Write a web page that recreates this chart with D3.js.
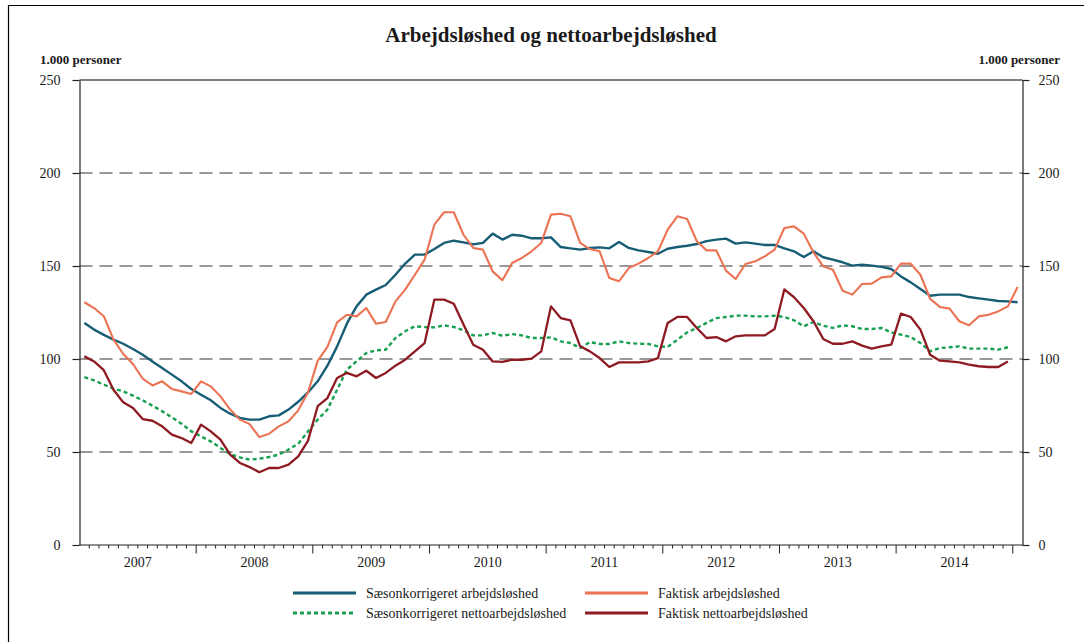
<!DOCTYPE html>
<html>
<head>
<meta charset="utf-8">
<script src="https://cdn.jsdelivr.net/npm/d3@7"></script>
<style>
  body { margin: 0; background: #fff; }
  svg { display: block; }
  text { font-family: "Liberation Serif", "DejaVu Serif", serif; fill: #1a1a1a; }
</style>
</head>
<body>
<div id="chart"></div>
<script>
// Monthly values, Jan 2007 onwards (1.000 personer)
const years = [2007, 2008, 2009, 2010, 2011, 2012, 2013, 2014];
const yTicks = [0, 50, 100, 150, 200, 250];

// Sæsonkorrigeret arbejdsløshed (Jan 2007 - Jan 2015)
const saesonLedighed = [
  119.4, 115.8, 113, 110.4, 108.2, 105.4, 102.3, 98.7, 95.2, 91.6, 88, 83.9,
  80.8, 77.8, 73.7, 70.6, 68.3, 67.4, 67.4, 69.2, 69.7, 72.8, 77, 82,
  88, 96.4, 106.8, 119, 128.3, 134.6, 137.3, 139.8, 145.3, 151.3, 156.1, 156.1,
  159.1, 162.4, 163.6, 162.7, 161.6, 162.4, 167.4, 164.2, 166.8, 166.3, 164.9, 164.9,
  165.4, 160.2, 159.5, 158.8, 159.7, 160, 159.5, 162.9, 159.7, 158.4, 157.5, 156.6,
  159.3, 160.2, 160.9, 161.8, 163.4, 164.2, 164.7, 162, 162.7, 162, 161.3, 161.3,
  159.5, 157.9, 154.8, 157.9, 154.7, 153.4, 152, 150.2, 150.7, 150.2, 149.5, 148.4,
  144.4, 141.2, 137.6, 134, 134.6, 134.6, 134.6, 133.3, 132.6, 131.9, 131.2, 131,
  130.5
];

// Faktisk arbejdsløshed (Jan 2007 - Jan 2015)
const faktiskLedighed = [
  130.5, 127.4, 123, 110.4, 102.7, 97.3, 89.4, 85.8, 88, 83.9, 82.6, 81.2,
  88, 85.3, 79.9, 72.8, 67.4, 65, 58, 59.8, 63.8, 66.5, 72.4, 82,
  99, 106.5, 119.7, 123.8, 122.9, 127.4, 119, 119.9, 131, 137.3, 145.3, 153.4,
  172.2, 178.9, 178.9, 166.8, 159.7, 158.8, 147.1, 142.3, 151.6, 154.3, 157.9, 162.4,
  177.6, 178.1, 176.7, 162.4, 159.1, 157.9, 143.5, 141.8, 148.9, 151.3, 154.3, 157.9,
  169.5, 176.7, 175.3, 163.3, 158.4, 158.4, 147.5, 143, 151.1, 152.5, 155.2, 158.8,
  170.4, 171.3, 167.4, 157.3, 149.8, 148, 136.7, 134.6, 140.3, 140.5, 143.9, 144.4,
  151.3, 151.3, 145.3, 132.3, 128, 127.1, 120.3, 118.1, 122.9, 123.8, 125.6, 128.3,
  138.7
];

// Sæsonkorrigeret nettoarbejdsløshed (Jan 2007 - Dec 2014)
const saesonNetto = [
  90.3, 88.5, 86.2, 84, 82.6, 80.3, 77.8, 74.9, 71.9, 68.6, 65.2, 61.1,
  58.4, 55.7, 52.2, 48.9, 47.1, 45.9, 46.4, 47.3, 48.6, 51.3, 54.5, 61,
  67.4, 72.8, 83.5, 94.3, 98.7, 103.2, 104.7, 105, 111.3, 114.9, 117.6, 117.2,
  117, 118.1, 117.2, 115.4, 112.7, 112.7, 114, 112.5, 113.4, 112.7, 111.3, 111.3,
  111.6, 109.5, 108.6, 105.9, 109.1, 108.1, 108.1, 109.5, 108.6, 108.2, 108.1, 106.8,
  106.5, 110.4, 114.3, 116.7, 119.4, 122, 122.6, 123.3, 123.3, 122.9, 122.9, 123.3,
  122.6, 120.8, 117.6, 119.9, 117.9, 116.7, 118.1, 117.6, 116.1, 116.1, 116.7, 114.3,
  113.1, 111.8, 108.6, 104.1, 105.9, 106.3, 106.8, 105.6, 105.6, 105.6, 105, 106.3
];

// Faktisk nettoarbejdsløshed (Jan 2007 - Dec 2014)
const faktiskNetto = [
  101.4, 98.7, 94, 83.5, 76.7, 73.7, 67.7, 66.8, 63.8, 59.3, 57.5, 54.8,
  64.7, 61.1, 56.6, 48.6, 44.1, 41.9, 39.1, 41.4, 41.4, 43.2, 47.7, 56,
  74.6, 79, 89.8, 92.5, 90.7, 93.7, 89.8, 92.5, 96.4, 99.6, 104.1, 108.6,
  131.9, 131.9, 129.7, 118.5, 107.7, 105, 98.7, 98.4, 99.6, 99.6, 100.2, 104.1,
  128.3, 122, 120.8, 106.8, 104.1, 100.5, 95.7, 98.2, 98.2, 98.2, 98.7, 100.5,
  119.4, 122.6, 122.6, 116.7, 111.3, 111.8, 109.5, 112.2, 112.7, 112.7, 112.7, 116.1,
  137.4, 133.2, 127.4, 120.3, 110.8, 108.2, 108.2, 109.5, 107.2, 105.6, 106.8, 107.7,
  124.4, 122.6, 115.8, 102.3, 99.1, 98.7, 98.2, 97, 96.1, 95.7, 95.7, 98.7
];

const series = [
  { name: "Sæsonkorrigeret arbejdsløshed", values: saesonLedighed, color: "#175d76", width: 2.4, dash: null },
  { name: "Faktisk arbejdsløshed", values: faktiskLedighed, color: "#eb7252", width: 2.1, dash: null },
  { name: "Sæsonkorrigeret nettoarbejdsløshed", values: saesonNetto, color: "#16a04f", width: 2.4, dash: "4,3" },
  { name: "Faktisk nettoarbejdsløshed", values: faktiskNetto, color: "#8e1a22", width: 2.3, dash: null },
];

const W = 1084, H = 642;
const pad = { left: 79.5, right: 1022.5, top: 80, bottom: 545 };

// One category per month, Jan 2007 .. Jan 2015
const months = [];
years.concat([2015]).forEach((yr) => {
  for (let m = 1; m <= 12; m++) {
    if (yr === 2015 && m > 1) break;
    months.push(`${yr}-${String(m).padStart(2, "0")}`);
  }
});

const x = d3.scaleBand().domain(months).range([pad.left, pad.right]).padding(0);
const y = d3.scaleLinear().domain([0, 250]).range([pad.bottom, pad.top]);
const cx = (i) => x(months[i]) + x.bandwidth() / 2;

const svg = d3.select("#chart").append("svg").attr("width", W).attr("height", H);

// Outer frame (top and left edges visible)
svg.append("path")
  .attr("d", `M8.5,${H} L8.5,5.5 L${W},5.5`)
  .attr("fill", "none").attr("stroke", "#000").attr("stroke-width", 1.2);

// Title
svg.append("text")
  .attr("x", (pad.left + pad.right) / 2).attr("y", 42)
  .attr("text-anchor", "middle")
  .attr("font-size", 21).attr("font-weight", "bold")
  .text("Arbejdsløshed og nettoarbejdsløshed");

svg.append("text").attr("x", 40).attr("y", 64)
  .attr("font-size", 13).attr("font-weight", "bold").text("1.000 personer");
svg.append("text").attr("x", 1060).attr("y", 64).attr("text-anchor", "end")
  .attr("font-size", 13).attr("font-weight", "bold").text("1.000 personer");

// Dashed grid
svg.append("g")
  .selectAll("line")
  .data(yTicks.filter((d) => d > 0 && d < 250))
  .join("line")
  .attr("x1", pad.left).attr("x2", pad.right)
  .attr("y1", (d) => y(d)).attr("y2", (d) => y(d))
  .attr("stroke", "#333").attr("stroke-width", 1.1)
  .attr("stroke-dasharray", "13,7");

// Top border line at 250
svg.append("line")
  .attr("x1", pad.left).attr("x2", pad.right)
  .attr("y1", y(250)).attr("y2", y(250))
  .attr("stroke", "#000").attr("stroke-width", 1.2);

// Y axes
const styleAxis = (g) => {
  g.select(".domain").attr("stroke", "#222").attr("stroke-width", 1.2);
  g.selectAll(".tick line").attr("stroke", "#222").attr("stroke-width", 1.2);
  g.selectAll(".tick text")
    .attr("font-family", "Liberation Serif, serif")
    .attr("font-size", 14).attr("fill", "#333");
};

svg.append("g")
  .attr("transform", `translate(${pad.left},0)`)
  .call(d3.axisLeft(y).tickValues(yTicks).tickSize(7).tickPadding(12).tickSizeOuter(0))
  .call(styleAxis);

svg.append("g")
  .attr("transform", `translate(${pad.right},0)`)
  .call(d3.axisRight(y).tickValues(yTicks).tickSize(7).tickPadding(9).tickSizeOuter(0))
  .call(styleAxis);

// X axis: month ticks, longer ticks at year boundaries
const gx = svg.append("g");
gx.append("line")
  .attr("x1", pad.left).attr("x2", pad.right)
  .attr("y1", pad.bottom).attr("y2", pad.bottom)
  .attr("stroke", "#222").attr("stroke-width", 1.2);

gx.selectAll("line.tick")
  .data(months.slice(1))
  .join("line")
  .attr("class", "tick")
  .attr("x1", (d) => x(d)).attr("x2", (d) => x(d))
  .attr("y1", pad.bottom)
  .attr("y2", (d) => pad.bottom + (d.endsWith("-01") ? 8.5 : 3.5))
  .attr("stroke", "#222").attr("stroke-width", 1);

gx.selectAll("text")
  .data(years)
  .join("text")
  .attr("x", (d) => (x(`${d}-01`) + x(`${d + 1}-01`)) / 2)
  .attr("y", 567)
  .attr("text-anchor", "middle")
  .attr("font-size", 14).attr("fill", "#333")
  .text((d) => d);

// Lines
const line = d3.line()
  .x((d, i) => cx(i))
  .y((d) => y(d));

svg.append("g")
  .attr("fill", "none")
  .selectAll("path")
  .data(series)
  .join("path")
  .attr("d", (s) => line(s.values))
  .attr("stroke", (s) => s.color)
  .attr("stroke-width", (s) => s.width)
  .attr("stroke-dasharray", (s) => s.dash)
  .attr("stroke-linejoin", "round");

// Legend, two columns by two rows
const legendPos = [
  { x: 293, y: 593 }, { x: 585, y: 593 },
  { x: 293, y: 613 }, { x: 585, y: 613 },
];

const leg = svg.append("g")
  .selectAll("g")
  .data(series)
  .join("g")
  .attr("transform", (s, i) => `translate(${legendPos[i].x},${legendPos[i].y})`);

leg.append("line")
  .attr("x1", 0).attr("x2", 63)
  .attr("stroke", (s) => s.color)
  .attr("stroke-width", 3.2)
  .attr("stroke-dasharray", (s) => s.dash);

leg.append("text")
  .attr("x", 73).attr("y", 4.5)
  .attr("font-size", 14)
  .text((s) => s.name);
</script>
</body>
</html>
